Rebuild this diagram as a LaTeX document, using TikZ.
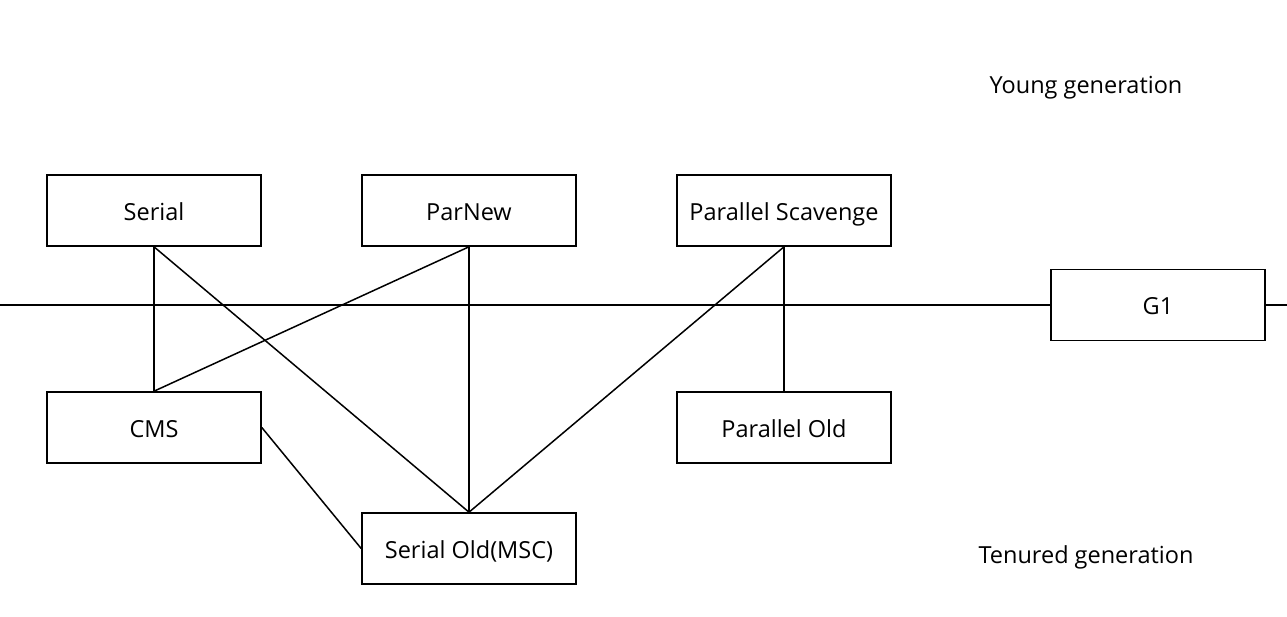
\documentclass[tikz,border=0pt]{standalone}
\usepackage{fontspec}
\setmainfont{Open Sans}
\begin{document}
\begin{tikzpicture}[x=1pt,y=-1pt,
  txt/.style={font=\fontsize{23.5}{27}\selectfont,text height=19pt,text depth=0pt},
  gcbox/.style={txt,draw=black,line width=1.6pt,minimum width=214pt,minimum height=71pt,inner sep=0pt,fill=white},
  lbl/.style={txt,inner sep=0pt},
  wire/.style={line width=1.5pt}]
\useasboundingbox (0,0) rectangle (1287,616);
\coordinate (L) at (0,305);
\coordinate (R) at (1287,305);
\node[gcbox] (serial) at (154,210.5) {Serial};
\node[gcbox] (parnew) at (469,210.5) {ParNew};
\node[gcbox] (ps) at (784,210.5) {Parallel Scavenge};
\node[gcbox] (g1) at (1158,305) {G1};
\node[gcbox] (cms) at (154,427.5) {CMS};
\node[gcbox] (po) at (784,427.5) {Parallel Old};
\node[gcbox] (so) at (469,548.5) {Serial Old(MSC)};
\node[lbl] (young) at (1086,84) {Young generation};
\node[lbl] (tenured) at (1086,554) {Tenured generation};
\draw[wire] (L) -- (g1.west);
\draw[wire] (g1.east) -- (R);
\draw[wire] (serial.south) -- (cms.north);
\draw[wire] (serial.south) -- (so.north);
\draw[wire] (parnew.south) -- (cms.north);
\draw[wire] (parnew.south) -- (so.north);
\draw[wire] (ps.south) -- (so.north);
\draw[wire] (ps.south) -- (po.north);
\draw[wire] (cms.east) -- (so.west);
\end{tikzpicture}
\end{document}
